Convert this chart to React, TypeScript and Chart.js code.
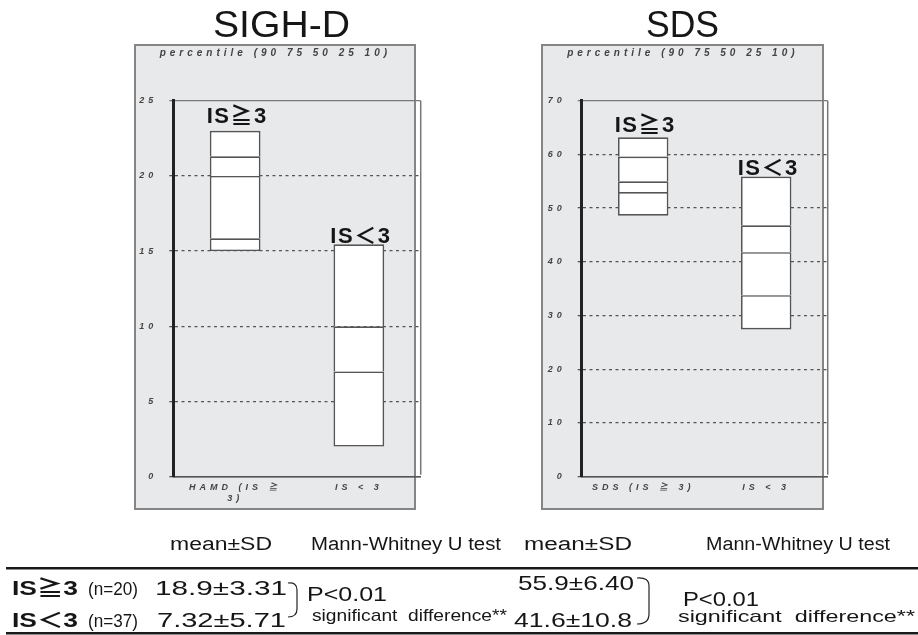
import React, { useEffect, useRef } from 'react';
import { Chart, registerables } from 'chart.js';

Chart.register(...registerables);

const FONT = "'Liberation Sans', 'Noto Sans CJK JP', sans-serif";

// ---- data ----
const groupLabels = ['IS≧3', 'IS＜3'];
// percentiles in order [10, 25, 50, 75, 90]; null = not readable
const sighdHigh = [15.0, 15.85, 20.0, 21.3, 23.0];
const sighdLow = [2.0, null, 7.0, 10.0, 15.45];
const sdsHigh = [48.6, 53.0, 55.0, 59.6, 63.2];
const sdsLow = [27.4, 33.8, 41.8, 46.8, 55.9];

const sighdXLabels = [['HAMD (IS ≧', '3)'], 'IS < 3'];
const sdsXLabels = ['SDS (IS ≧ 3)', 'IS < 3'];
const sighdYMax = 25;
const sighdYStep = 5;
const sdsYMax = 70;
const sdsYStep = 10;
const subtitle = 'percentile (90 75 50 25 10)';
const panelTitles = ['SIGH-D', 'SDS'];

const tableHeader = ['mean±SD', 'Mann-Whitney U test'];
const rowLabels = ['IS≧3', 'IS＜3'];
const rowN = ['(n=20)', '(n=37)'];
const sighdStats = ['18.9±3.31', '7.32±5.71'];
const sdsStats = ['55.9±6.40', '41.6±10.8'];
const testResult = ['P<0.01', 'significant  difference**'];

// ---- helpers ----
function buildSegments(groups: (number | null)[][]) {
  const bounds = groups.map((p) => p.filter((v) => v !== null) as number[]);
  const nSeg = Math.max(...bounds.map((b) => b.length)) - 1;
  const ds: any[] = [];
  for (let k = 0; k < nSeg; k++) {
    ds.push({
      label: 'seg' + k,
      data: bounds.map((b) => (k + 1 < b.length ? [b[k], b[k + 1]] : null)),
      backgroundColor: '#ffffff',
      borderColor: '#555555',
      borderWidth: { left: 1.7, right: 1.7, top: 1.7, bottom: k === 0 ? 1.7 : 0 },
      borderSkipped: false,
      grouped: false,
      barPercentage: 0.41,
      categoryPercentage: 1,
    });
  }
  return ds;
}

const tickFont = { family: FONT, size: 9, style: 'italic' as const, weight: 'bold' as const, lineHeight: 1.15 };

function Panel({ p }: { p: any }) {
  const ref = useRef<HTMLCanvasElement>(null);
  useEffect(() => {
    const spacing = {
      id: 'spacing',
      beforeDraw(chart: any) {
        chart.ctx.letterSpacing = '4px';
      },
      afterDraw(chart: any) {
        chart.ctx.letterSpacing = '0px';
      },
    };
    const frame = {
      id: 'frame',
      beforeDatasetsDraw(chart: any) {
        const { ctx, chartArea: a } = chart;
        ctx.save();
        ctx.strokeStyle = '#777';
        ctx.lineWidth = 1.5;
        ctx.beginPath();
        ctx.moveTo(a.right, a.top);
        ctx.lineTo(a.right, a.bottom - 2);
        ctx.stroke();
        ctx.restore();
      },
    };
    const labels = {
      id: 'groupLabels',
      afterDatasetsDraw(chart: any) {
        const { ctx } = chart;
        const xs = chart.scales.x;
        const ys = chart.scales.y;
        ctx.save();
        ctx.letterSpacing = '1.5px';
        ctx.font = `bold 22px ${FONT}`;
        ctx.fillStyle = '#151515';
        ctx.textAlign = 'center';
        ctx.textBaseline = 'alphabetic';
        groupLabels.forEach((t, i) => {
          const top = Math.max(...(p.percentiles[i].filter((v: any) => v !== null) as number[]));
          ctx.fillText(t, xs.getPixelForValue(i) + 2, ys.getPixelForValue(top) - p.gaps[i]);
        });
        ctx.restore();
      },
    };
    const max = p.max;
    const chart = new Chart(ref.current as HTMLCanvasElement, {
      type: 'bar',
      data: { labels: p.xLabels, datasets: buildSegments(p.percentiles) },
      options: {
        responsive: false,
        animation: false,
        devicePixelRatio: 1,
        layout: { padding: { left: 0, right: p.rightPad, top: 0, bottom: 0 } },
        plugins: {
          legend: { display: false },
          tooltip: { enabled: false },
          title: {
            display: true,
            text: subtitle,
            color: '#444',
            font: { family: FONT, size: 10, style: 'italic', weight: 'bold', lineHeight: 1.2 },
            padding: { top: 7, bottom: 41.7 },
          },
        },
        scales: {
          x: {
            offset: true,
            grid: { display: false, drawTicks: false },
            border: { display: true, color: '#555', width: 1.5 },
            ticks: { font: tickFont, color: '#444', padding: 6, maxRotation: 0, minRotation: 0, autoSkip: false },
            afterFit: (s: any) => {
              s.height = 33.3;
            },
          },
          y: {
            min: 0,
            max: max,
            ticks: { stepSize: p.step, font: tickFont, color: '#444', padding: 12, callback: (v: any) => String(v) },
            grid: {
              color: (c: any) => (c.tick && c.tick.value === max ? '#7a7a7a' : '#555'),
              lineWidth: 1.3,
              tickLength: 4,
            },
            border: {
              display: true,
              color: '#222',
              width: 3,
              dash: (c: any) => (c.type === 'tick' && c.tick && c.tick.value > 0 && c.tick.value < max ? [3, 3.5] : []),
            },
            afterFit: (s: any) => {
              s.width = p.yAxisWidth;
            },
          },
        },
      } as any,
      plugins: [spacing, frame, labels],
    });
    return () => chart.destroy();
  }, []);
  return (
    <>
      <div
        style={{
          position: 'absolute',
          left: p.box[0],
          top: p.box[1],
          width: p.box[2],
          height: p.box[3],
          background: '#e8e9eb',
          border: '2px solid #858585',
          boxSizing: 'border-box',
        }}
      />
      <canvas
        ref={ref}
        width={300}
        height={470}
        style={{ position: 'absolute', left: p.canvasLeft, top: 40, width: 300, height: 470 }}
      />
    </>
  );
}

const leftPanel = {
  canvasLeft: 130,
  yAxisWidth: 43.3,
  rightPad: 9.3,
  max: sighdYMax,
  step: sighdYStep,
  xLabels: sighdXLabels,
  percentiles: [sighdHigh, sighdLow],
  gaps: [8, 1],
  box: [134, 44, 282, 466],
};
const rightPanel = {
  canvasLeft: 538,
  yAxisWidth: 43.7,
  rightPad: 10.3,
  max: sdsYMax,
  step: sdsYStep,
  xLabels: sdsXLabels,
  percentiles: [sdsHigh, sdsLow],
  gaps: [5, 1],
  box: [541, 44, 283, 466],
};

function T(props: any) {
  const { x, y, s, w, b, children } = props;
  return (
    <text
      x={x}
      y={y}
      fontSize={s}
      fontWeight={b ? 'bold' : 'normal'}
      textLength={w}
      lengthAdjust="spacingAndGlyphs"
      fill="#161616"
      style={{ whiteSpace: 'pre' }}
    >
      {children}
    </text>
  );
}

export default function App() {
  return (
    <div style={{ position: 'absolute', left: 0, top: 0, width: 918, height: 635, background: '#fff' }}>
      <Panel p={leftPanel} />
      <Panel p={rightPanel} />
      <svg
        width={918}
        height={635}
        style={{ position: 'absolute', left: 0, top: 0, pointerEvents: 'none' }}
        fontFamily={FONT}
      >
        <T x={213} y={37} s={37} w={137}>{panelTitles[0]}</T>
        <T x={646} y={37} s={37} w={73}>{panelTitles[1]}</T>

        <T x={170} y={550} s={18} w={102}>{tableHeader[0]}</T>
        <T x={311} y={550} s={18} w={190}>{tableHeader[1]}</T>
        <T x={524} y={550} s={18} w={108}>{tableHeader[0]}</T>
        <T x={706} y={550} s={18} w={184}>{tableHeader[1]}</T>

        <rect x={6} y={567} width={912} height={2.5} fill="#1a1a1a" />
        <rect x={6} y={632} width={912} height={2.5} fill="#1a1a1a" />

        <T x={12} y={595} s={21} w={66} b>{rowLabels[0]}</T>
        <T x={88} y={595} s={18} w={50}>{rowN[0]}</T>
        <T x={12} y={627} s={21} w={66} b>{rowLabels[1]}</T>
        <T x={88} y={627} s={18} w={50}>{rowN[1]}</T>

        <T x={155} y={595} s={21} w={132}>{sighdStats[0]}</T>
        <T x={157} y={627} s={21} w={129}>{sighdStats[1]}</T>
        <path d="M 288 583 Q 297 582 297 590 L 297 609 Q 297 617 288 617" stroke="#222" strokeWidth={1.2} fill="none" />
        <T x={307} y={601} s={21} w={80}>{testResult[0]}</T>
        <T x={312} y={621} s={17} w={195}>{testResult[1]}</T>

        <T x={518} y={590} s={21} w={116}>{sdsStats[0]}</T>
        <T x={514} y={627} s={21} w={118}>{sdsStats[1]}</T>
        <path d="M 637 578 Q 649 577 649 586 L 649 614 Q 649 624 637 624" stroke="#222" strokeWidth={1.2} fill="none" />
        <T x={683} y={606} s={21} w={76}>{testResult[0]}</T>
        <T x={678} y={622} s={17} w={237}>{testResult[1]}</T>
      </svg>
    </div>
  );
}
